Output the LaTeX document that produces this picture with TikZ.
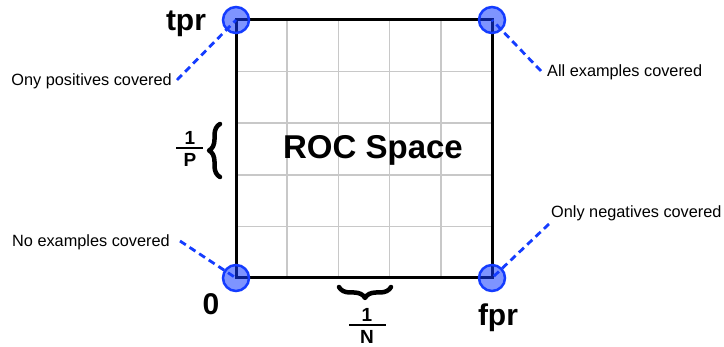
\documentclass[tikz,border=0pt]{standalone}
\usepackage{fontspec}
\setmainfont{Liberation Sans}
\usetikzlibrary{decorations.pathreplacing}
\definecolor{dotblue}{RGB}{20,60,255}
\definecolor{gridgray}{RGB}{200,200,200}
\begin{document}
\begin{tikzpicture}[x=1pt,y=-1pt,
  cornerdot/.style={circle,minimum size=26pt,inner sep=0pt,draw=dotblue,line width=2.5pt,fill=dotblue,fill opacity=0.55,draw opacity=1},
  callout/.style={dotblue,line width=2.8pt,dash pattern=on 7pt off 4.5pt},
  smalltxt/.style={font=\fontsize{16.3}{18}\selectfont,inner sep=0pt},
  bigtxt/.style={font=\fontsize{30}{34}\selectfont\bfseries,inner sep=0pt},
  fractxt/.style={font=\fontsize{19}{21}\selectfont\bfseries,inner sep=0pt},
  fracbar/.style={line width=2.2pt},
  bracestyle/.style={decorate,line width=4.5pt,line cap=round,line join=round}]
\useasboundingbox (0,0) rectangle (724,347);
% grid
\foreach \i in {1,2,3,4}{
  \draw[gridgray,line width=1.5pt] (236+51.2*\i,20) -- (236+51.2*\i,278);
  \draw[gridgray,line width=1.5pt] (236,20+51.6*\i) -- (492,20+51.6*\i);
}
\draw[black,line width=3pt] (236,20) rectangle (492,278);
\node[font=\fontsize{33}{36}\selectfont\bfseries] (title) at (373,150) {ROC Space};
% corner labels
\node[bigtxt] (tpr) at (186,24) {tpr};
\node[bigtxt] (zero) at (211,304) {0};
\node[bigtxt] (fpr) at (498,318) {fpr};
% callout texts
\node[smalltxt,anchor=east] (tlt) at (172,81) {Ony positives covered};
\node[smalltxt,anchor=west] (trt) at (547,72) {All examples covered};
\node[smalltxt,anchor=west] (brt) at (551,213) {Only negatives covered};
\node[smalltxt,anchor=east] (blt) at (170,242) {No examples covered};
\coordinate (tlc) at (177,80);
\coordinate (trc) at (541,71);
\coordinate (brc) at (549,224);
\coordinate (blc) at (180,241);
% corner dots
\coordinate (TL) at (236,20);
\coordinate (TR) at (492,20);
\coordinate (BL) at (236,278);
\coordinate (BR) at (492,278);
\draw[callout] (tlc) -- (TL);
\draw[callout] (trc) -- (TR);
\draw[callout] (brc) -- (BR);
\draw[callout] (blc) -- (BL);
\node[cornerdot] (dtl) at (TL) {};
\node[cornerdot] (dtr) at (TR) {};
\node[cornerdot] (dbl) at (BL) {};
\node[cornerdot] (dbr) at (BR) {};
% left brace and 1/P
\coordinate (pb1) at (220,177);
\coordinate (pb2) at (220,124);
\draw[bracestyle,decoration={brace,amplitude=11pt}] (pb1) -- (pb2);
\node[fractxt] (pone) at (190,137.5) {1};
\node[fractxt] (pden) at (190,160) {P};
\coordinate (pbarl) at (176,148);
\coordinate (pbarr) at (203,148);
\draw[fracbar] (pbarl) -- (pbarr);
% bottom brace and 1/N
\coordinate (nb1) at (391,287);
\coordinate (nb2) at (339,287);
\draw[bracestyle,decoration={brace,amplitude=11pt}] (nb1) -- (nb2);
\node[fractxt] (none) at (367,315) {1};
\node[fractxt] (nden) at (367,336.5) {N};
\coordinate (nbarl) at (349,325);
\coordinate (nbarr) at (386,325);
\draw[fracbar] (nbarl) -- (nbarr);
\end{tikzpicture}
\end{document}
